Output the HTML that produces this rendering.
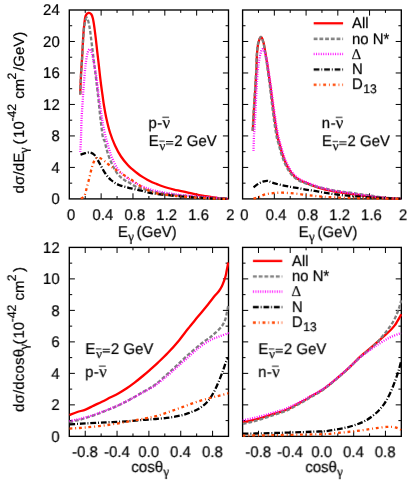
<!DOCTYPE html>
<html><head><meta charset="utf-8"><title>chart</title>
<style>html,body{margin:0;padding:0;background:#fff}body{width:415px;height:485px;position:relative;overflow:hidden;font-family:"Liberation Sans",sans-serif}</style></head>
<body>
<svg width="415" height="485" viewBox="0 0 415 485" style="position:absolute;left:0;top:0">
<rect width="415" height="485" fill="#fff"/>
<defs>
<clipPath id="cTL"><rect x="69.00" y="10.00" width="160.50" height="190.10"/></clipPath>
<clipPath id="cTR"><rect x="242.30" y="10.00" width="160.00" height="190.10"/></clipPath>
<clipPath id="cBL"><rect x="69.00" y="247.40" width="160.50" height="190.15"/></clipPath>
<clipPath id="cBR"><rect x="242.30" y="247.40" width="160.00" height="190.15"/></clipPath>
</defs>
<path d="M101.14 198.90 v-5.6 M101.14 10.00 v5.6 M132.98 198.90 v-5.6 M132.98 10.00 v5.6 M164.82 198.90 v-5.6 M164.82 10.00 v5.6 M196.66 198.90 v-5.6 M196.66 10.00 v5.6 M85.22 198.90 v-2.9 M85.22 10.00 v2.9 M117.06 198.90 v-2.9 M117.06 10.00 v2.9 M148.90 198.90 v-2.9 M148.90 10.00 v2.9 M180.74 198.90 v-2.9 M180.74 10.00 v2.9 M212.58 198.90 v-2.9 M212.58 10.00 v2.9 M69.30 167.42 h5.6 M228.50 167.42 h-5.6 M69.30 135.93 h5.6 M228.50 135.93 h-5.6 M69.30 104.45 h5.6 M228.50 104.45 h-5.6 M69.30 72.97 h5.6 M228.50 72.97 h-5.6 M69.30 41.48 h5.6 M228.50 41.48 h-5.6 M69.30 183.16 h2.9 M228.50 183.16 h-2.9 M69.30 151.68 h2.9 M228.50 151.68 h-2.9 M69.30 120.19 h2.9 M228.50 120.19 h-2.9 M69.30 88.71 h2.9 M228.50 88.71 h-2.9 M69.30 57.22 h2.9 M228.50 57.22 h-2.9 M69.30 25.74 h2.9 M228.50 25.74 h-2.9 M274.34 198.90 v-5.6 M274.34 10.00 v5.6 M306.08 198.90 v-5.6 M306.08 10.00 v5.6 M337.82 198.90 v-5.6 M337.82 10.00 v5.6 M369.56 198.90 v-5.6 M369.56 10.00 v5.6 M258.47 198.90 v-2.9 M258.47 10.00 v2.9 M290.21 198.90 v-2.9 M290.21 10.00 v2.9 M321.95 198.90 v-2.9 M321.95 10.00 v2.9 M353.69 198.90 v-2.9 M353.69 10.00 v2.9 M385.43 198.90 v-2.9 M385.43 10.00 v2.9 M242.60 167.42 h5.6 M401.30 167.42 h-5.6 M242.60 135.93 h5.6 M401.30 135.93 h-5.6 M242.60 104.45 h5.6 M401.30 104.45 h-5.6 M242.60 72.97 h5.6 M401.30 72.97 h-5.6 M242.60 41.48 h5.6 M401.30 41.48 h-5.6 M242.60 183.16 h2.9 M401.30 183.16 h-2.9 M242.60 151.68 h2.9 M401.30 151.68 h-2.9 M242.60 120.19 h2.9 M401.30 120.19 h-2.9 M242.60 88.71 h2.9 M401.30 88.71 h-2.9 M242.60 57.22 h2.9 M401.30 57.22 h-2.9 M242.60 25.74 h2.9 M401.30 25.74 h-2.9 M85.22 436.35 v-5.6 M85.22 247.40 v5.6 M117.06 436.35 v-5.6 M117.06 247.40 v5.6 M148.90 436.35 v-5.6 M148.90 247.40 v5.6 M180.74 436.35 v-5.6 M180.74 247.40 v5.6 M212.58 436.35 v-5.6 M212.58 247.40 v5.6 M101.14 436.35 v-2.9 M101.14 247.40 v2.9 M132.98 436.35 v-2.9 M132.98 247.40 v2.9 M164.82 436.35 v-2.9 M164.82 247.40 v2.9 M196.66 436.35 v-2.9 M196.66 247.40 v2.9 M69.30 404.86 h5.6 M228.50 404.86 h-5.6 M69.30 373.37 h5.6 M228.50 373.37 h-5.6 M69.30 341.88 h5.6 M228.50 341.88 h-5.6 M69.30 310.38 h5.6 M228.50 310.38 h-5.6 M69.30 278.89 h5.6 M228.50 278.89 h-5.6 M69.30 420.60 h2.9 M228.50 420.60 h-2.9 M69.30 389.11 h2.9 M228.50 389.11 h-2.9 M69.30 357.62 h2.9 M228.50 357.62 h-2.9 M69.30 326.13 h2.9 M228.50 326.13 h-2.9 M69.30 294.64 h2.9 M228.50 294.64 h-2.9 M69.30 263.15 h2.9 M228.50 263.15 h-2.9 M258.47 436.35 v-5.6 M258.47 247.40 v5.6 M290.21 436.35 v-5.6 M290.21 247.40 v5.6 M321.95 436.35 v-5.6 M321.95 247.40 v5.6 M353.69 436.35 v-5.6 M353.69 247.40 v5.6 M385.43 436.35 v-5.6 M385.43 247.40 v5.6 M274.34 436.35 v-2.9 M274.34 247.40 v2.9 M306.08 436.35 v-2.9 M306.08 247.40 v2.9 M337.82 436.35 v-2.9 M337.82 247.40 v2.9 M369.56 436.35 v-2.9 M369.56 247.40 v2.9 M242.60 404.86 h5.6 M401.30 404.86 h-5.6 M242.60 373.37 h5.6 M401.30 373.37 h-5.6 M242.60 341.88 h5.6 M401.30 341.88 h-5.6 M242.60 310.38 h5.6 M401.30 310.38 h-5.6 M242.60 278.89 h5.6 M401.30 278.89 h-5.6 M242.60 420.60 h2.9 M401.30 420.60 h-2.9 M242.60 389.11 h2.9 M401.30 389.11 h-2.9 M242.60 357.62 h2.9 M401.30 357.62 h-2.9 M242.60 326.13 h2.9 M401.30 326.13 h-2.9 M242.60 294.64 h2.9 M401.30 294.64 h-2.9 M242.60 263.15 h2.9 M401.30 263.15 h-2.9" stroke="#000" stroke-width="1.0" fill="none"/>
<rect x="69.30" y="10.00" width="159.20" height="188.90" fill="none" stroke="#000" stroke-width="1.35"/>
<rect x="242.60" y="10.00" width="158.70" height="188.90" fill="none" stroke="#000" stroke-width="1.35"/>
<rect x="69.30" y="247.40" width="159.20" height="188.95" fill="none" stroke="#000" stroke-width="1.35"/>
<rect x="242.60" y="247.40" width="158.70" height="188.95" fill="none" stroke="#000" stroke-width="1.35"/>
<g clip-path="url(#cTL)" fill="none" stroke-width="2.30">
<path d="M80.20 94.50 C80.33 91.25 80.67 81.48 81.00 75.00 C81.33 68.52 81.85 61.65 82.20 55.60 C82.55 49.55 82.77 43.77 83.10 38.70 C83.43 33.63 83.78 28.98 84.20 25.20 C84.62 21.42 84.88 18.05 85.60 16.00 C86.32 13.95 87.55 13.18 88.50 12.90 C89.45 12.62 90.57 13.35 91.30 14.30 C92.03 15.25 92.40 16.50 92.90 18.60 C93.40 20.70 93.82 23.55 94.30 26.90 C94.78 30.25 95.30 34.48 95.80 38.70 C96.30 42.92 96.82 47.98 97.30 52.20 C97.78 56.42 98.27 60.20 98.70 64.00 C99.13 67.80 99.50 71.50 99.90 75.00 C100.30 78.50 100.67 81.67 101.10 85.00 C101.53 88.33 102.03 91.67 102.50 95.00 C102.97 98.33 103.25 101.08 103.90 105.00 C104.55 108.92 105.38 113.92 106.40 118.50 C107.42 123.08 108.57 128.00 110.00 132.50 C111.43 137.00 113.17 141.50 115.00 145.50 C116.83 149.50 118.83 153.20 121.00 156.50 C123.17 159.80 126.03 163.12 128.00 165.30 C129.97 167.48 131.20 168.23 132.80 169.60 C134.40 170.97 135.98 172.28 137.60 173.50 C139.22 174.72 140.88 175.85 142.50 176.90 C144.12 177.95 145.70 178.92 147.30 179.80 C148.90 180.68 150.50 181.48 152.10 182.20 C153.70 182.92 155.30 183.47 156.90 184.10 C158.50 184.73 159.85 185.35 161.70 186.00 C163.55 186.65 165.95 187.40 168.00 188.00 C170.05 188.60 172.00 189.12 174.00 189.60 C176.00 190.08 177.67 190.40 180.00 190.90 C182.33 191.40 185.35 192.03 188.00 192.60 C190.65 193.17 193.25 193.77 195.90 194.30 C198.55 194.83 201.25 195.32 203.90 195.80 C206.55 196.28 209.15 196.78 211.80 197.20 C214.45 197.62 217.15 198.00 219.80 198.30 C222.45 198.60 226.38 198.88 227.70 199.00" stroke="#ff0000"/>
<path d="M80.20 94.50 C80.33 91.25 80.65 81.48 81.00 75.00 C81.35 68.52 81.93 61.65 82.30 55.60 C82.67 49.55 82.85 43.77 83.20 38.70 C83.55 33.63 83.78 28.72 84.40 25.20 C85.02 21.68 86.05 17.30 86.90 17.60 C87.75 17.90 88.80 23.48 89.50 27.00 C90.20 30.52 90.55 34.50 91.10 38.70 C91.65 42.90 92.32 48.27 92.80 52.20 C93.28 56.13 93.60 59.08 94.00 62.30 C94.40 65.52 94.83 68.53 95.20 71.50 C95.57 74.47 95.83 76.98 96.20 80.10 C96.57 83.22 96.98 86.55 97.40 90.20 C97.82 93.85 98.28 98.05 98.70 102.00 C99.12 105.95 99.47 109.95 99.90 113.90 C100.33 117.85 100.80 121.77 101.30 125.70 C101.80 129.63 102.35 134.95 102.90 137.50 C103.45 140.05 104.03 139.23 104.60 141.00 C105.17 142.77 105.65 145.67 106.30 148.10 C106.95 150.53 107.65 153.15 108.50 155.60 C109.35 158.05 110.35 160.47 111.40 162.80 C112.45 165.13 113.53 167.48 114.80 169.60 C116.07 171.72 117.47 173.82 119.00 175.50 C120.53 177.18 122.18 178.43 124.00 179.70 C125.82 180.97 127.70 181.83 129.90 183.10 C132.10 184.37 134.77 186.27 137.20 187.30 C139.63 188.33 142.08 188.65 144.50 189.30 C146.92 189.95 149.30 190.65 151.70 191.20 C154.10 191.75 156.50 192.20 158.90 192.60 C161.30 193.00 163.68 193.27 166.10 193.60 C168.52 193.93 170.98 194.30 173.40 194.60 C175.82 194.90 177.83 195.13 180.60 195.40 C183.37 195.67 186.77 195.93 190.00 196.20 C193.23 196.47 196.33 196.73 200.00 197.00 C203.67 197.27 207.38 197.52 212.00 197.80 C216.62 198.08 225.08 198.55 227.70 198.70" stroke="#7f7f7f" stroke-dasharray="3.81 1.91"/>
<path d="M80.20 152.00 C80.33 149.58 80.78 142.73 81.00 137.50 C81.22 132.27 81.25 126.23 81.50 120.60 C81.75 114.97 82.15 109.32 82.50 103.70 C82.85 98.08 83.20 92.23 83.60 86.90 C84.00 81.57 84.48 76.07 84.90 71.70 C85.32 67.33 85.62 63.95 86.10 60.70 C86.58 57.45 87.15 54.12 87.80 52.20 C88.45 50.28 89.30 48.92 90.00 49.20 C90.70 49.48 91.38 51.72 92.00 53.90 C92.62 56.08 93.12 59.28 93.70 62.30 C94.28 65.32 94.95 68.75 95.50 72.00 C96.05 75.25 96.55 78.48 97.00 81.80 C97.45 85.12 97.77 88.53 98.20 91.90 C98.63 95.27 99.08 98.33 99.60 102.00 C100.12 105.67 100.75 110.23 101.30 113.90 C101.85 117.57 102.20 120.23 102.90 124.00 C103.60 127.77 104.65 132.98 105.50 136.50 C106.35 140.02 107.17 142.25 108.00 145.10 C108.83 147.95 109.52 150.78 110.50 153.60 C111.48 156.42 112.63 159.33 113.90 162.00 C115.17 164.67 116.55 167.50 118.10 169.60 C119.65 171.70 121.37 173.00 123.20 174.60 C125.03 176.20 126.77 177.63 129.10 179.20 C131.43 180.77 134.63 182.65 137.20 184.00 C139.77 185.35 142.08 186.33 144.50 187.30 C146.92 188.27 149.30 189.10 151.70 189.80 C154.10 190.50 156.50 190.98 158.90 191.50 C161.30 192.02 163.68 192.47 166.10 192.90 C168.52 193.33 170.98 193.75 173.40 194.10 C175.82 194.45 177.83 194.72 180.60 195.00 C183.37 195.28 186.77 195.52 190.00 195.80 C193.23 196.08 196.33 196.40 200.00 196.70 C203.67 197.00 207.38 197.27 212.00 197.60 C216.62 197.93 225.08 198.52 227.70 198.70" stroke="#ff00ff" stroke-dasharray="0.95 1.43"/>
<path d="M80.50 154.70 C81.28 154.45 83.62 153.57 85.20 153.20 C86.78 152.83 88.45 152.20 90.00 152.50 C91.55 152.80 93.25 153.82 94.50 155.00 C95.75 156.18 96.58 158.10 97.50 159.60 C98.42 161.10 98.75 161.77 100.00 164.00 C101.25 166.23 103.17 170.33 105.00 173.00 C106.83 175.67 108.67 178.00 111.00 180.00 C113.33 182.00 116.17 183.73 119.00 185.00 C121.83 186.27 125.70 186.98 128.00 187.60 C130.30 188.22 131.20 188.32 132.80 188.70 C134.40 189.08 135.98 189.52 137.60 189.90 C139.22 190.28 140.88 190.60 142.50 191.00 C144.12 191.40 145.70 191.92 147.30 192.30 C148.90 192.68 150.50 193.02 152.10 193.30 C153.70 193.58 154.25 193.68 156.90 194.00 C159.55 194.32 164.15 194.82 168.00 195.20 C171.85 195.58 175.50 195.93 180.00 196.30 C184.50 196.67 190.00 197.07 195.00 197.40 C200.00 197.73 204.55 198.03 210.00 198.30 C215.45 198.57 224.75 198.88 227.70 199.00" stroke="#000000" stroke-dasharray="5.72 1.91 0.95 1.91"/>
<path d="M81.00 198.60 C81.57 198.15 83.42 197.78 84.40 195.90 C85.38 194.02 86.05 190.42 86.90 187.30 C87.75 184.18 88.65 180.58 89.50 177.20 C90.35 173.82 91.17 169.82 92.00 167.00 C92.83 164.18 93.67 161.83 94.50 160.30 C95.33 158.77 96.02 158.13 97.00 157.80 C97.98 157.47 99.13 157.75 100.40 158.30 C101.67 158.85 103.05 159.92 104.60 161.10 C106.15 162.28 107.87 163.98 109.70 165.40 C111.53 166.82 113.50 168.20 115.60 169.60 C117.70 171.00 120.23 172.43 122.30 173.80 C124.37 175.17 126.25 176.65 128.00 177.80 C129.75 178.95 131.20 179.65 132.80 180.70 C134.40 181.75 135.98 182.97 137.60 184.10 C139.22 185.23 140.88 186.53 142.50 187.50 C144.12 188.47 145.70 189.18 147.30 189.90 C148.90 190.62 150.50 191.23 152.10 191.80 C153.70 192.37 155.30 192.90 156.90 193.30 C158.50 193.70 159.85 193.92 161.70 194.20 C163.55 194.48 164.95 194.63 168.00 195.00 C171.05 195.37 175.50 195.97 180.00 196.40 C184.50 196.83 190.00 197.27 195.00 197.60 C200.00 197.93 204.55 198.17 210.00 198.40 C215.45 198.63 224.75 198.90 227.70 199.00" stroke="#ff4500" stroke-dasharray="2.86 2.86 0.95 2.86"/>
</g>
<g clip-path="url(#cTR)" fill="none" stroke-width="2.30">
<path d="M252.80 130.70 C252.97 127.62 253.40 118.95 253.80 112.20 C254.20 105.45 254.77 97.23 255.20 90.20 C255.63 83.17 256.12 75.77 256.40 70.00 C256.68 64.23 256.60 59.97 256.90 55.60 C257.20 51.23 257.50 46.90 258.20 43.80 C258.90 40.70 260.20 37.15 261.10 37.00 C262.00 36.85 262.90 40.37 263.60 42.90 C264.30 45.43 264.73 48.97 265.30 52.20 C265.87 55.43 266.50 59.08 267.00 62.30 C267.50 65.52 267.73 67.40 268.31 71.50 C268.89 75.60 269.79 81.53 270.50 86.90 C271.21 92.27 271.85 98.08 272.58 103.70 C273.30 109.32 274.05 115.13 274.86 120.60 C275.68 126.07 276.69 132.62 277.46 136.50 C278.24 140.38 278.71 141.05 279.50 143.90 C280.29 146.75 281.18 150.45 282.20 153.60 C283.22 156.75 284.37 160.00 285.60 162.80 C286.83 165.60 288.13 168.15 289.60 170.40 C291.07 172.65 292.62 174.63 294.40 176.30 C296.18 177.97 298.10 179.20 300.30 180.40 C302.50 181.60 305.17 182.50 307.60 183.50 C310.03 184.50 312.49 185.53 314.90 186.40 C317.31 187.27 319.70 188.02 322.07 188.70 C324.44 189.38 326.77 189.97 329.12 190.50 C331.47 191.03 333.80 191.50 336.18 191.90 C338.56 192.30 341.00 192.58 343.40 192.90 C345.80 193.22 348.05 193.45 350.60 193.80 C353.15 194.15 355.92 194.62 358.70 195.00 C361.48 195.38 364.42 195.73 367.30 196.10 C370.18 196.47 373.10 196.88 376.00 197.20 C378.90 197.52 381.80 197.78 384.70 198.00 C387.60 198.22 390.75 198.37 393.40 198.50 C396.05 198.63 399.40 198.75 400.60 198.80" stroke="#ff0000"/>
<path d="M252.60 130.70 C252.77 127.62 253.20 118.95 253.60 112.20 C254.00 105.45 254.57 97.23 255.00 90.20 C255.43 83.17 255.92 75.77 256.20 70.00 C256.48 64.23 256.40 59.97 256.70 55.60 C257.00 51.23 257.30 46.90 258.00 43.80 C258.70 40.70 260.00 37.15 260.90 37.00 C261.80 36.85 262.71 40.36 263.40 42.90 C264.09 45.44 264.49 49.00 265.04 52.25 C265.58 55.51 266.17 59.19 266.65 62.42 C267.13 65.66 267.34 67.56 267.90 71.68 C268.45 75.80 269.30 81.77 269.97 87.17 C270.65 92.57 271.26 98.41 271.95 104.06 C272.64 109.70 273.33 115.56 274.12 121.05 C274.91 126.54 275.90 133.11 276.66 137.00 C277.43 140.89 277.91 141.55 278.70 144.40 C279.49 147.25 280.38 150.95 281.40 154.10 C282.42 157.25 283.57 160.50 284.80 163.30 C286.03 166.10 287.33 168.65 288.80 170.90 C290.27 173.15 291.82 175.13 293.60 176.80 C295.38 178.47 297.29 179.73 299.50 180.90 C301.71 182.07 304.40 182.92 306.88 183.79 C309.36 184.66 311.91 185.43 314.40 186.11 C316.88 186.78 319.36 187.29 321.78 187.83 C324.20 188.38 326.56 188.91 328.92 189.40 C331.29 189.89 333.60 190.40 335.98 190.80 C338.36 191.20 340.80 191.48 343.20 191.80 C345.60 192.12 347.85 192.35 350.40 192.70 C352.95 193.05 355.72 193.50 358.50 193.90 C361.28 194.30 364.22 194.65 367.10 195.08 C369.98 195.52 372.90 196.08 375.80 196.50 C378.70 196.93 381.60 197.30 384.50 197.62 C387.40 197.95 390.55 198.25 393.20 198.44 C395.85 198.64 399.20 198.74 400.40 198.80" stroke="#7f7f7f" stroke-dasharray="3.81 1.91"/>
<path d="M253.50 151.00 C253.58 148.33 253.83 138.67 254.00 135.00 C254.17 131.33 254.25 133.08 254.50 129.00 C254.75 124.92 255.17 116.97 255.50 110.50 C255.83 104.03 256.13 96.70 256.50 90.20 C256.87 83.70 257.22 76.70 257.70 71.50 C258.18 66.30 258.83 62.35 259.40 59.00 C259.97 55.65 260.53 53.03 261.10 51.40 C261.67 49.77 262.10 48.78 262.80 49.20 C263.50 49.62 264.55 51.74 265.30 53.90 C266.05 56.06 266.71 59.26 267.28 62.16 C267.84 65.06 268.05 67.23 268.66 71.30 C269.28 75.38 270.22 81.27 270.97 86.60 C271.73 91.94 272.41 97.72 273.18 103.31 C273.95 108.89 274.75 114.66 275.60 120.10 C276.45 125.54 277.48 132.08 278.26 135.95 C279.05 139.82 279.51 140.50 280.30 143.35 C281.09 146.20 281.98 149.90 283.00 153.05 C284.02 156.20 285.17 159.45 286.40 162.25 C287.63 165.05 288.93 167.60 290.40 169.85 C291.87 172.10 293.42 174.08 295.20 175.75 C296.98 177.42 298.90 178.65 301.10 179.85 C303.30 181.05 305.97 181.95 308.40 182.95 C310.83 183.95 313.29 184.98 315.70 185.85 C318.11 186.72 320.50 187.47 322.87 188.15 C325.24 188.83 327.57 189.42 329.92 189.95 C332.27 190.48 334.60 190.94 336.98 191.35 C339.35 191.76 341.78 192.05 344.16 192.38 C346.54 192.71 348.76 192.97 351.28 193.35 C353.80 193.72 356.53 194.21 359.28 194.62 C362.03 195.03 364.93 195.41 367.78 195.80 C370.63 196.19 373.51 196.64 376.38 196.98 C379.25 197.32 382.12 197.61 385.01 197.84 C387.90 198.06 391.06 198.20 393.71 198.34 C396.36 198.47 399.71 198.59 400.91 198.64" stroke="#ff00ff" stroke-dasharray="0.95 1.43"/>
<path d="M253.50 187.30 C254.35 186.68 256.92 184.58 258.60 183.60 C260.28 182.62 262.07 181.85 263.60 181.40 C265.13 180.95 266.12 180.62 267.80 180.90 C269.48 181.18 271.30 182.37 273.70 183.10 C276.10 183.83 279.38 184.67 282.20 185.30 C285.02 185.93 287.80 186.40 290.60 186.90 C293.40 187.40 296.23 187.82 299.00 188.30 C301.77 188.78 304.62 189.37 307.20 189.80 C309.78 190.23 312.08 190.50 314.50 190.90 C316.92 191.30 319.30 191.78 321.70 192.20 C324.10 192.62 326.50 193.03 328.90 193.40 C331.30 193.77 333.68 194.08 336.10 194.40 C338.52 194.72 340.98 195.03 343.40 195.30 C345.82 195.57 347.83 195.77 350.60 196.00 C353.37 196.23 355.93 196.43 360.00 196.70 C364.07 196.97 370.00 197.33 375.00 197.60 C380.00 197.87 385.73 198.12 390.00 198.30 C394.27 198.48 398.83 198.63 400.60 198.70" stroke="#000000" stroke-dasharray="5.72 1.91 0.95 1.91"/>
<path d="M253.50 198.60 C254.35 198.35 256.92 197.72 258.60 197.10 C260.28 196.48 261.92 195.47 263.60 194.90 C265.28 194.33 266.73 194.03 268.70 193.70 C270.67 193.37 273.15 193.07 275.40 192.90 C277.65 192.73 279.67 192.65 282.20 192.70 C284.73 192.75 287.80 192.98 290.60 193.20 C293.40 193.42 296.23 193.68 299.00 194.00 C301.77 194.32 304.62 194.78 307.20 195.10 C309.78 195.42 312.08 195.65 314.50 195.90 C316.92 196.15 319.30 196.40 321.70 196.60 C324.10 196.80 325.28 196.90 328.90 197.10 C332.52 197.30 338.22 197.60 343.40 197.80 C348.58 198.00 353.90 198.17 360.00 198.30 C366.10 198.43 373.23 198.52 380.00 198.60 C386.77 198.68 397.17 198.77 400.60 198.80" stroke="#ff4500" stroke-dasharray="2.86 2.86 0.95 2.86"/>
</g>
<g clip-path="url(#cBL)" fill="none" stroke-width="2.30">
<path d="M69.50 415.00 C70.80 414.50 74.63 412.90 77.30 412.00 C79.97 411.10 82.77 410.67 85.50 409.60 C88.23 408.53 90.97 406.90 93.70 405.60 C96.43 404.30 99.17 403.13 101.90 401.80 C104.63 400.47 107.37 399.00 110.10 397.60 C112.83 396.20 115.58 394.92 118.30 393.40 C121.02 391.88 123.68 390.30 126.40 388.50 C129.12 386.70 131.87 384.68 134.60 382.60 C137.33 380.52 140.23 378.13 142.80 376.00 C145.37 373.87 147.47 372.03 150.00 369.80 C152.53 367.57 155.00 365.43 158.00 362.60 C161.00 359.77 164.50 356.50 168.00 352.80 C171.50 349.10 175.67 344.40 179.00 340.40 C182.33 336.40 184.83 332.77 188.00 328.80 C191.17 324.83 194.67 320.67 198.00 316.60 C201.33 312.53 205.17 307.90 208.00 304.40 C210.83 300.90 213.17 297.83 215.00 295.60 C216.83 293.37 217.83 292.60 219.00 291.00 C220.17 289.40 221.17 287.67 222.00 286.00 C222.83 284.33 223.40 282.67 224.00 281.00 C224.60 279.33 225.17 277.67 225.60 276.00 C226.03 274.33 226.27 272.67 226.60 271.00 C226.93 269.33 227.33 267.42 227.60 266.00 C227.87 264.58 228.10 263.08 228.20 262.50" stroke="#ff0000"/>
<path d="M69.50 422.40 C70.80 422.07 74.63 421.12 77.30 420.40 C79.97 419.68 82.77 418.93 85.50 418.10 C88.23 417.27 90.97 416.37 93.70 415.40 C96.43 414.43 99.17 413.37 101.90 412.30 C104.63 411.23 107.37 410.13 110.10 409.00 C112.83 407.87 115.58 406.77 118.30 405.50 C121.02 404.23 123.68 402.83 126.40 401.40 C129.12 399.97 131.87 398.45 134.60 396.90 C137.33 395.35 140.23 393.58 142.80 392.10 C145.37 390.62 147.83 389.32 150.00 388.00 C152.17 386.68 153.02 386.43 155.80 384.20 C158.58 381.97 163.08 377.83 166.70 374.60 C170.32 371.37 173.88 368.15 177.50 364.80 C181.12 361.45 184.78 357.73 188.40 354.50 C192.02 351.27 196.32 347.75 199.20 345.40 C202.08 343.05 203.88 341.73 205.70 340.40 C207.52 339.07 208.65 338.52 210.10 337.40 C211.55 336.28 212.60 335.37 214.40 333.70 C216.20 332.03 219.17 329.55 220.90 327.40 C222.63 325.25 223.78 323.37 224.80 320.80 C225.82 318.23 226.43 314.55 227.00 312.00 C227.57 309.45 228.00 306.58 228.20 305.50" stroke="#7f7f7f" stroke-dasharray="3.81 1.91"/>
<path d="M69.50 421.20 C70.80 420.90 74.63 420.03 77.30 419.40 C79.97 418.77 82.77 418.15 85.50 417.40 C88.23 416.65 90.97 415.82 93.70 414.90 C96.43 413.98 99.17 412.93 101.90 411.90 C104.63 410.87 107.37 409.80 110.10 408.70 C112.83 407.60 115.58 406.53 118.30 405.30 C121.02 404.07 123.68 402.68 126.40 401.30 C129.12 399.92 131.87 398.47 134.60 397.00 C137.33 395.53 140.23 393.90 142.80 392.50 C145.37 391.10 147.83 389.85 150.00 388.60 C152.17 387.35 153.02 387.05 155.80 385.00 C158.58 382.95 163.08 379.35 166.70 376.30 C170.32 373.25 173.88 369.92 177.50 366.70 C181.12 363.48 184.78 360.20 188.40 357.00 C192.02 353.80 195.58 350.30 199.20 347.50 C202.82 344.70 206.85 342.00 210.10 340.20 C213.35 338.40 215.82 337.80 218.70 336.70 C221.58 335.60 225.82 334.15 227.40 333.60 C228.98 333.05 228.07 333.43 228.20 333.40" stroke="#ff00ff" stroke-dasharray="0.95 1.43"/>
<path d="M69.50 424.40 C72.17 424.23 79.42 423.73 85.50 423.40 C91.58 423.07 99.18 422.75 106.00 422.40 C112.82 422.05 119.90 421.73 126.40 421.30 C132.90 420.87 140.10 420.18 145.00 419.80 C149.90 419.42 152.18 419.32 155.80 419.00 C159.42 418.68 163.08 418.37 166.70 417.90 C170.32 417.43 173.88 416.98 177.50 416.20 C181.12 415.42 184.78 414.50 188.40 413.20 C192.02 411.90 195.95 410.40 199.20 408.40 C202.45 406.40 205.40 404.03 207.90 401.20 C210.40 398.37 212.32 394.87 214.20 391.40 C216.08 387.93 217.70 383.97 219.20 380.40 C220.70 376.83 222.07 373.07 223.20 370.00 C224.33 366.93 225.17 364.08 226.00 362.00 C226.83 359.92 227.83 358.25 228.20 357.50" stroke="#000000" stroke-dasharray="5.72 1.91 0.95 1.91"/>
<path d="M69.50 428.60 C72.17 428.42 79.42 428.07 85.50 427.50 C91.58 426.93 99.18 426.13 106.00 425.20 C112.82 424.27 119.90 423.03 126.40 421.90 C132.90 420.77 140.10 419.35 145.00 418.40 C149.90 417.45 152.18 417.15 155.80 416.20 C159.42 415.25 163.08 413.92 166.70 412.70 C170.32 411.48 173.88 410.20 177.50 408.90 C181.12 407.60 184.78 406.20 188.40 404.90 C192.02 403.60 195.58 402.25 199.20 401.10 C202.82 399.95 206.85 398.88 210.10 398.00 C213.35 397.12 215.82 396.55 218.70 395.80 C221.58 395.05 225.82 393.92 227.40 393.50 C228.98 393.08 228.07 393.33 228.20 393.30" stroke="#ff4500" stroke-dasharray="2.86 2.86 0.95 2.86"/>
</g>
<g clip-path="url(#cBR)" fill="none" stroke-width="2.30">
<path d="M242.80 422.40 C244.17 422.10 248.18 421.28 251.00 420.60 C253.82 419.92 256.80 419.12 259.70 418.30 C262.60 417.48 265.52 416.60 268.40 415.70 C271.28 414.80 274.12 413.85 277.00 412.90 C279.88 411.95 282.80 411.18 285.70 410.00 C288.60 408.82 291.50 407.28 294.40 405.80 C297.30 404.32 300.22 402.72 303.10 401.10 C305.98 399.48 308.72 397.82 311.70 396.10 C314.68 394.38 317.78 392.93 321.00 390.80 C324.22 388.67 327.67 385.95 331.00 383.30 C334.33 380.65 337.67 377.82 341.00 374.90 C344.33 371.98 347.83 368.80 351.00 365.80 C354.17 362.80 357.47 359.27 360.00 356.90 C362.53 354.53 364.13 353.37 366.20 351.60 C368.27 349.83 370.13 348.27 372.40 346.30 C374.67 344.33 377.73 341.62 379.80 339.80 C381.87 337.98 382.95 337.07 384.80 335.40 C386.65 333.73 389.25 331.47 390.90 329.80 C392.55 328.13 393.67 326.75 394.70 325.40 C395.73 324.05 396.28 323.03 397.10 321.70 C397.92 320.37 398.92 318.65 399.60 317.40 C400.28 316.15 400.93 314.73 401.20 314.20" stroke="#ff0000"/>
<path d="M242.80 423.99 C244.17 423.67 248.18 422.79 251.00 422.06 C253.82 421.33 256.80 420.48 259.70 419.62 C262.60 418.76 265.52 417.83 268.40 416.89 C271.28 415.94 274.12 414.94 277.00 413.95 C279.88 412.95 282.80 412.15 285.70 410.92 C288.60 409.69 291.50 408.11 294.40 406.58 C297.30 405.05 300.22 403.40 303.10 401.74 C305.98 400.08 308.72 398.37 311.70 396.61 C314.68 394.85 317.78 393.33 321.00 391.16 C324.22 388.99 327.67 386.26 331.00 383.60 C334.33 380.94 337.67 378.12 341.00 375.20 C344.33 372.28 347.83 369.10 351.00 366.10 C354.17 363.10 357.42 359.57 360.00 357.20 C362.58 354.83 364.38 353.67 366.50 351.90 C368.62 350.13 370.88 348.22 372.70 346.60 C374.52 344.98 375.80 343.90 377.40 342.20 C379.00 340.50 380.87 338.10 382.30 336.40 C383.73 334.70 384.77 333.58 386.00 332.00 C387.23 330.42 388.47 328.70 389.70 326.90 C390.93 325.10 392.27 323.20 393.40 321.20 C394.53 319.20 395.57 317.07 396.50 314.90 C397.43 312.73 398.32 310.27 399.00 308.20 C399.68 306.13 400.23 303.82 400.60 302.50 C400.97 301.18 401.10 300.67 401.20 300.30" stroke="#7f7f7f" stroke-dasharray="3.81 1.91"/>
<path d="M242.80 420.22 C244.17 419.95 248.18 419.21 251.00 418.59 C253.82 417.97 256.80 417.23 259.70 416.48 C262.60 415.73 265.52 414.91 268.40 414.07 C271.28 413.23 274.12 412.34 277.00 411.45 C279.88 410.56 282.80 409.86 285.70 408.74 C288.60 407.62 291.50 406.15 294.40 404.73 C297.30 403.31 300.22 401.76 303.10 400.21 C305.98 398.65 308.72 397.05 311.70 395.40 C314.68 393.75 317.78 392.37 321.00 390.30 C324.22 388.24 327.67 385.61 331.00 383.01 C334.33 380.41 337.67 377.60 341.00 374.70 C344.33 371.80 347.83 368.48 351.00 365.60 C354.17 362.72 357.27 359.68 360.00 357.40 C362.73 355.12 365.33 353.42 367.40 351.90 C369.47 350.38 370.75 349.47 372.40 348.30 C374.05 347.13 375.23 346.25 377.30 344.90 C379.37 343.55 382.32 341.62 384.80 340.20 C387.28 338.78 389.47 337.58 392.20 336.40 C394.93 335.22 399.70 333.65 401.20 333.10" stroke="#ff00ff" stroke-dasharray="0.95 1.43"/>
<path d="M242.80 433.70 C245.67 433.65 253.57 433.55 260.00 433.40 C266.43 433.25 274.22 433.02 281.40 432.80 C288.58 432.58 297.50 432.30 303.10 432.10 C308.70 431.90 311.35 431.75 315.00 431.60 C318.65 431.45 321.63 431.52 325.00 431.20 C328.37 430.88 331.78 430.28 335.20 429.70 C338.62 429.12 342.08 428.52 345.50 427.70 C348.92 426.88 352.28 426.02 355.70 424.80 C359.12 423.58 362.58 422.37 366.00 420.40 C369.42 418.43 373.13 415.80 376.20 413.00 C379.27 410.20 382.02 407.03 384.40 403.60 C386.78 400.17 388.68 396.27 390.50 392.40 C392.32 388.53 393.97 383.97 395.30 380.40 C396.63 376.83 397.52 374.23 398.50 371.00 C399.48 367.77 400.75 362.67 401.20 361.00" stroke="#000000" stroke-dasharray="5.72 1.91 0.95 1.91"/>
<path d="M242.80 435.60 C247.33 435.53 260.47 435.35 270.00 435.20 C279.53 435.05 290.83 434.88 300.00 434.70 C309.17 434.52 319.13 434.35 325.00 434.10 C330.87 433.85 331.78 433.52 335.20 433.20 C338.62 432.88 342.08 432.55 345.50 432.20 C348.92 431.85 352.28 431.52 355.70 431.10 C359.12 430.68 362.58 430.20 366.00 429.70 C369.42 429.20 372.78 428.57 376.20 428.10 C379.62 427.63 383.77 427.10 386.50 426.90 C389.23 426.70 390.73 426.70 392.60 426.90 C394.47 427.10 396.27 427.58 397.70 428.10 C399.13 428.62 400.62 429.68 401.20 430.00" stroke="#ff4500" stroke-dasharray="2.86 2.86 0.95 2.86"/>
</g>
<g font-family="Liberation Sans, sans-serif" font-size="15" fill="#000" transform="rotate(0.03)" text-rendering="geometricPrecision" opacity="0.999" stroke="#000" stroke-width="0.22">
<path d="M313.70 23.15 H343.10" stroke="#ff0000" stroke-width="2.30" fill="none"/>
<path d="M313.70 38.75 H343.10" stroke="#7f7f7f" stroke-width="2.30" fill="none" stroke-dasharray="3.81 1.91"/>
<path d="M313.70 53.90 H343.10" stroke="#ff00ff" stroke-width="2.30" fill="none" stroke-dasharray="0.95 1.43"/>
<path d="M313.70 69.30 H343.10" stroke="#000000" stroke-width="2.30" fill="none" stroke-dasharray="5.72 1.91 0.95 1.91"/>
<path d="M313.70 84.60 H343.10" stroke="#ff4500" stroke-width="2.30" fill="none" stroke-dasharray="2.86 2.86 0.95 2.86"/>
<text transform="translate(351.90 28.40) scale(0.9653 1)" font-size="15.54">All</text>
<text transform="translate(351.90 43.70) scale(0.9653 1)" font-size="15.54">no N*</text>
<text x="351.60" y="58.70" font-family="Liberation Serif, serif" font-size="15.2" stroke-width="0.1">&#916;</text>
<text transform="translate(351.90 73.90) scale(0.9653 1)" font-size="15.54">N</text>
<text transform="translate(351.90 89.00) scale(0.9653 1)" font-size="15.54">D<tspan font-size="12.74" dy="4.10" dx="0.50">13</tspan></text>
<path d="M253.10 260.85 H282.40" stroke="#ff0000" stroke-width="2.30" fill="none"/>
<path d="M253.10 276.30 H282.40" stroke="#7f7f7f" stroke-width="2.30" fill="none" stroke-dasharray="3.81 1.91"/>
<path d="M253.10 291.50 H282.40" stroke="#ff00ff" stroke-width="2.30" fill="none" stroke-dasharray="0.95 1.43"/>
<path d="M253.10 307.00 H282.40" stroke="#000000" stroke-width="2.30" fill="none" stroke-dasharray="5.72 1.91 0.95 1.91"/>
<path d="M253.10 322.50 H282.40" stroke="#ff4500" stroke-width="2.30" fill="none" stroke-dasharray="2.86 2.86 0.95 2.86"/>
<text transform="translate(291.90 265.60) scale(0.9653 1)" font-size="15.54">All</text>
<text transform="translate(291.90 281.10) scale(0.9653 1)" font-size="15.54">no N*</text>
<text x="291.60" y="296.30" font-family="Liberation Serif, serif" font-size="15.2" stroke-width="0.1">&#916;</text>
<text transform="translate(291.90 311.70) scale(0.9653 1)" font-size="15.54">N</text>
<text transform="translate(291.90 326.90) scale(0.9653 1)" font-size="15.54">D<tspan font-size="12.74" dy="4.10" dx="0.50">13</tspan></text>
<text transform="translate(59.80 204.30) scale(0.9653 1)" font-size="15.54" text-anchor="end">0</text>
<text transform="translate(59.80 172.82) scale(0.9653 1)" font-size="15.54" text-anchor="end">4</text>
<text transform="translate(59.80 141.33) scale(0.9653 1)" font-size="15.54" text-anchor="end">8</text>
<text transform="translate(59.80 109.85) scale(0.9653 1)" font-size="15.54" text-anchor="end">12</text>
<text transform="translate(59.80 78.37) scale(0.9653 1)" font-size="15.54" text-anchor="end">16</text>
<text transform="translate(59.80 46.88) scale(0.9653 1)" font-size="15.54" text-anchor="end">20</text>
<text transform="translate(59.80 15.40) scale(0.9653 1)" font-size="15.54" text-anchor="end">24</text>
<text transform="translate(59.80 441.75) scale(0.9653 1)" font-size="15.54" text-anchor="end">0</text>
<text transform="translate(59.80 410.26) scale(0.9653 1)" font-size="15.54" text-anchor="end">2</text>
<text transform="translate(59.80 378.77) scale(0.9653 1)" font-size="15.54" text-anchor="end">4</text>
<text transform="translate(59.80 347.27) scale(0.9653 1)" font-size="15.54" text-anchor="end">6</text>
<text transform="translate(59.80 315.78) scale(0.9653 1)" font-size="15.54" text-anchor="end">8</text>
<text transform="translate(59.80 284.29) scale(0.9653 1)" font-size="15.54" text-anchor="end">10</text>
<text transform="translate(59.80 252.80) scale(0.9653 1)" font-size="15.54" text-anchor="end">12</text>
<text transform="translate(71.20 219.70) scale(0.9653 1)" font-size="15.54" text-anchor="middle">0</text>
<text transform="translate(103.04 219.70) scale(0.9653 1)" font-size="15.54" text-anchor="middle">0.4</text>
<text transform="translate(134.88 219.70) scale(0.9653 1)" font-size="15.54" text-anchor="middle">0.8</text>
<text transform="translate(166.72 219.70) scale(0.9653 1)" font-size="15.54" text-anchor="middle">1.2</text>
<text transform="translate(198.56 219.70) scale(0.9653 1)" font-size="15.54" text-anchor="middle">1.6</text>
<text transform="translate(230.40 219.70) scale(0.9653 1)" font-size="15.54" text-anchor="middle">2</text>
<text transform="translate(85.22 456.60) scale(0.9653 1)" font-size="15.54" text-anchor="middle">-0.8</text>
<text transform="translate(117.06 456.60) scale(0.9653 1)" font-size="15.54" text-anchor="middle">-0.4</text>
<text transform="translate(148.90 456.60) scale(0.9653 1)" font-size="15.54" text-anchor="middle">0.0</text>
<text transform="translate(180.74 456.60) scale(0.9653 1)" font-size="15.54" text-anchor="middle">0.4</text>
<text transform="translate(212.58 456.60) scale(0.9653 1)" font-size="15.54" text-anchor="middle">0.8</text>
<text transform="translate(244.50 219.70) scale(0.9653 1)" font-size="15.54" text-anchor="middle">0</text>
<text transform="translate(276.24 219.70) scale(0.9653 1)" font-size="15.54" text-anchor="middle">0.4</text>
<text transform="translate(307.98 219.70) scale(0.9653 1)" font-size="15.54" text-anchor="middle">0.8</text>
<text transform="translate(339.72 219.70) scale(0.9653 1)" font-size="15.54" text-anchor="middle">1.2</text>
<text transform="translate(371.46 219.70) scale(0.9653 1)" font-size="15.54" text-anchor="middle">1.6</text>
<text transform="translate(403.20 219.70) scale(0.9653 1)" font-size="15.54" text-anchor="middle">2</text>
<text transform="translate(258.47 456.60) scale(0.9653 1)" font-size="15.54" text-anchor="middle">-0.8</text>
<text transform="translate(290.21 456.60) scale(0.9653 1)" font-size="15.54" text-anchor="middle">-0.4</text>
<text transform="translate(321.95 456.60) scale(0.9653 1)" font-size="15.54" text-anchor="middle">0.0</text>
<text transform="translate(353.69 456.60) scale(0.9653 1)" font-size="15.54" text-anchor="middle">0.4</text>
<text transform="translate(385.43 456.60) scale(0.9653 1)" font-size="15.54" text-anchor="middle">0.8</text>
<text transform="translate(118.00 236.55) scale(0.9653 1)" font-size="15.54">E<tspan font-family="Liberation Serif, serif" font-size="13.68" dy="4.15" dx="0.31">&#947;</tspan><tspan dy="-4.15" dx="-1.55"> (GeV)</tspan></text>
<text transform="translate(298.80 236.55) scale(0.9653 1)" font-size="15.54">E<tspan font-family="Liberation Serif, serif" font-size="13.68" dy="4.15" dx="0.31">&#947;</tspan><tspan dy="-4.15" dx="-1.55"> (GeV)</tspan></text>
<text transform="translate(131.60 471.50) scale(0.9653 1)" font-size="15.54">cos&#952;<tspan font-family="Liberation Serif, serif" font-size="13.68" dy="4.15" dx="0.31">&#947;</tspan></text>
<text transform="translate(305.40 471.50) scale(0.9653 1)" font-size="15.54">cos&#952;<tspan font-family="Liberation Serif, serif" font-size="13.68" dy="4.15" dx="0.31">&#947;</tspan></text>
<text transform="translate(24.00 193.40) rotate(-90) scale(1.0152 1)" font-size="14.78"><tspan x="0.00" y="0.00"><tspan letter-spacing="0.15">d&#963;/dE</tspan></tspan><tspan x="39.65" y="4.15" font-size="13.20" font-family="Liberation Serif, serif">&#947;</tspan><tspan x="48.07" y="0.00">(</tspan><tspan x="54.67" y="0.00">10</tspan><tspan x="70.72" y="-7.70" font-size="12.12">-42</tspan><tspan x="93.28" y="0.00">cm</tspan><tspan x="112.19" y="-7.70" font-size="12.12">2</tspan><tspan x="120.66" y="0.00">/GeV)</tspan></text>
<text transform="translate(24.00 412.10) rotate(-90) scale(1.0152 1)" font-size="14.78"><tspan x="0.00" y="0.00"><tspan letter-spacing="0.2">d&#963;/dcos&#952;</tspan></tspan><tspan x="61.46" y="4.15" font-size="13.20" font-family="Liberation Serif, serif">&#947;</tspan><tspan x="66.59" y="0.00">(</tspan><tspan x="72.50" y="0.00">10</tspan><tspan x="88.45" y="-7.70" font-size="12.12">-42</tspan><tspan x="110.02" y="0.00">cm</tspan><tspan x="128.84" y="-7.70" font-size="12.12">2</tspan><tspan x="138.10" y="0.00">)</tspan></text>
<text transform="translate(148.40 127.90) scale(0.9653 1)" font-size="15.54">p</text>
<text transform="translate(157.30 127.90) scale(0.9653 1)" font-size="15.54">-</text>
<text x="162.40" y="127.90" font-family="Liberation Serif, serif" font-size="17.00">&#957;</text><path d="M162.40 117.20 H169.10" stroke="#000" stroke-width="0.9" fill="none"/>
<text transform="translate(148.70 145.70) scale(0.9653 1)" font-size="15.54">E</text>
<text x="159.50" y="150.10" font-family="Liberation Serif, serif" font-size="13.00">&#957;</text><path d="M159.30 141.10 H164.70" stroke="#000" stroke-width="0.9" fill="none"/>
<path d="M166.00 141.45H173.30M166.00 144.05H173.30" stroke="#000" stroke-width="1.05" fill="none"/>
<text transform="translate(174.30 145.70) scale(0.9653 1)" font-size="15.54">2 GeV</text>
<text transform="translate(321.80 127.90) scale(0.9653 1)" font-size="15.54">n</text>
<text transform="translate(330.70 127.90) scale(0.9653 1)" font-size="15.54">-</text>
<text x="335.80" y="127.90" font-family="Liberation Serif, serif" font-size="17.00">&#957;</text><path d="M335.80 117.20 H342.50" stroke="#000" stroke-width="0.9" fill="none"/>
<text transform="translate(322.00 145.90) scale(0.9653 1)" font-size="15.54">E</text>
<text x="332.80" y="150.30" font-family="Liberation Serif, serif" font-size="13.00">&#957;</text><path d="M332.60 141.30 H338.00" stroke="#000" stroke-width="0.9" fill="none"/>
<path d="M339.30 141.65H346.60M339.30 144.25H346.60" stroke="#000" stroke-width="1.05" fill="none"/>
<text transform="translate(347.60 145.90) scale(0.9653 1)" font-size="15.54">2 GeV</text>
<text transform="translate(85.50 353.50) scale(0.9653 1)" font-size="15.54">E</text>
<text x="96.30" y="357.90" font-family="Liberation Serif, serif" font-size="13.00">&#957;</text><path d="M96.10 348.90 H101.50" stroke="#000" stroke-width="0.9" fill="none"/>
<path d="M102.80 349.25H110.10M102.80 351.85H110.10" stroke="#000" stroke-width="1.05" fill="none"/>
<text transform="translate(111.10 353.50) scale(0.9653 1)" font-size="15.54">2 GeV</text>
<text transform="translate(85.20 376.80) scale(0.9653 1)" font-size="15.54">p</text>
<text transform="translate(94.10 376.80) scale(0.9653 1)" font-size="15.54">-</text>
<text x="99.20" y="376.80" font-family="Liberation Serif, serif" font-size="17.00">&#957;</text><path d="M99.20 366.10 H105.90" stroke="#000" stroke-width="0.9" fill="none"/>
<text transform="translate(258.40 353.50) scale(0.9653 1)" font-size="15.54">E</text>
<text x="269.20" y="357.90" font-family="Liberation Serif, serif" font-size="13.00">&#957;</text><path d="M269.00 348.90 H274.40" stroke="#000" stroke-width="0.9" fill="none"/>
<path d="M275.70 349.25H283.00M275.70 351.85H283.00" stroke="#000" stroke-width="1.05" fill="none"/>
<text transform="translate(284.00 353.50) scale(0.9653 1)" font-size="15.54">2 GeV</text>
<text transform="translate(258.20 376.80) scale(0.9653 1)" font-size="15.54">n</text>
<text transform="translate(267.10 376.80) scale(0.9653 1)" font-size="15.54">-</text>
<text x="272.20" y="376.80" font-family="Liberation Serif, serif" font-size="17.00">&#957;</text><path d="M272.20 366.10 H278.90" stroke="#000" stroke-width="0.9" fill="none"/>
</g>
</svg>
</body></html>
